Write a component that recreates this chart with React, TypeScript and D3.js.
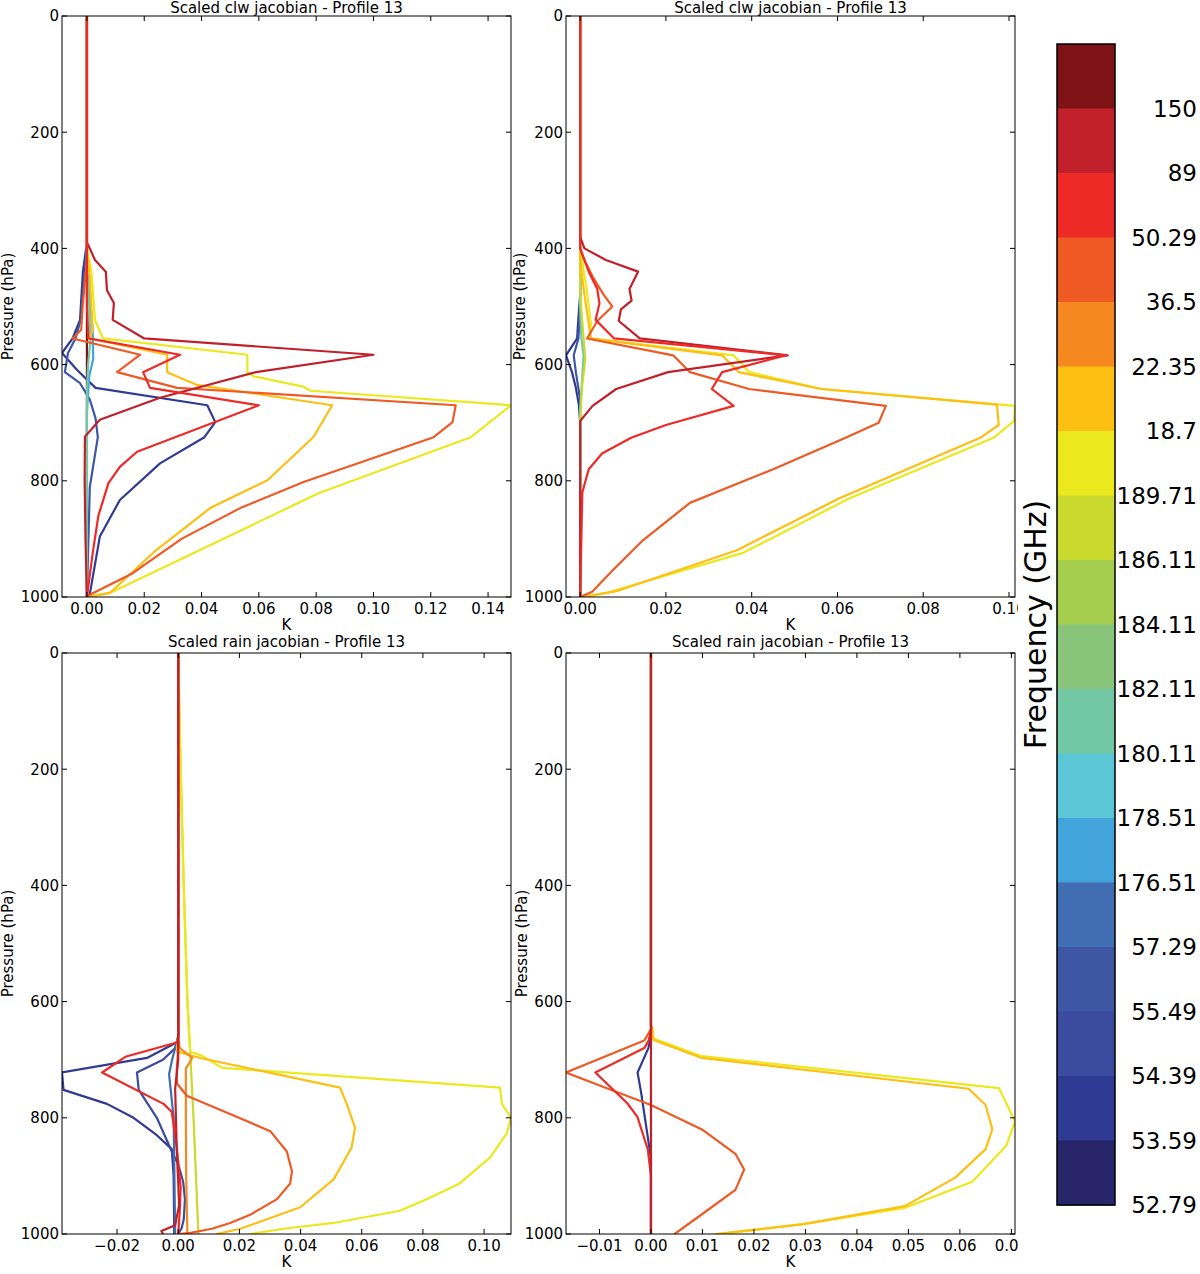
import React from 'react';
import * as d3 from 'd3';

type Pt = [number, number]; // [pressure (hPa), jacobian (K)]

interface Series {
    band: number;
    pts: Pt[];
}

// colourbar: one band per channel, top to bottom, label sits at the lower edge of the band
const bandLabels = ['150', '89', '50.29', '36.5', '22.35', '18.7', '189.71', '186.11', '184.11',
    '182.11', '180.11', '178.51', '176.51', '57.29', '55.49', '54.39', '53.59', '52.79'];
const bandColors = ['#7d1315', '#c1202b', '#ed2a25', '#ef5a24', '#f5891f', '#fdbf11', '#ece81e',
    '#c9d92d', '#a5ce4f', '#88c57b', '#72c8a5', '#5bc7d6', '#43a3db', '#416db3', '#3e57a4',
    '#3b4b9e', '#2f3b93', '#29256a'];

const pressureTicks = [0, 200, 400, 600, 800, 1000];
const clwLeftTicks = [0, 0.02, 0.04, 0.06, 0.08, 0.1, 0.12, 0.14];
const clwRightTicks = [0, 0.02, 0.04, 0.06, 0.08, 0.1];
const rainLeftTicks = [-0.02, 0, 0.02, 0.04, 0.06, 0.08, 0.1];
const rainRightTicks = [-0.01, 0, 0.01, 0.02, 0.03, 0.04, 0.05, 0.06, 0.07];

// ---- clw jacobian, left panel
const clwA_150: Pt[] = [[0, 0], [1000, 0]];
const clwA_53: Pt[] = [[0, 0], [390, 0], [440, -0.0014], [523, -0.0024], [555, -0.005], [580, -0.0087], [609, -0.0035], [640, 0.003], [670, 0.042], [699, 0.0448], [725, 0.041], [770, 0.0255], [833, 0.0115], [896, 0.0045], [995, 0.001], [1000, 0]];
const clwA_55: Pt[] = [[0, 0], [400, 0], [450, -0.001], [520, -0.002], [555, -0.004], [580, -0.0066], [613, -0.0077], [632, -0.0024], [660, 0.001], [692, 0.003], [725, 0.0038], [811, 0.001], [1000, 0]];
const clwA_176: Pt[] = [[0, 0], [430, 0], [480, 0.001], [540, 0.002], [590, 0.0022], [620, 0.0008], [680, 0], [1000, 0]];
const clwA_180: Pt[] = [[0, 0], [440, 0], [500, 0.0008], [560, 0.0012], [600, 0.0004], [650, 0], [1000, 0]];
const clwA_189: Pt[] = [[0, 0], [400, 0], [442, 0.0016], [523, 0.0028], [555, 0.0056], [583, 0.056], [613, 0.056], [620, 0.058], [638, 0.0755], [645, 0.078], [670, 0.148], [725, 0.134], [821, 0.081], [919, 0.0395], [993, 0.008], [1000, 0]];
const clwA_18: Pt[] = [[0, 0], [400, 0], [450, 0.001], [540, 0.002], [555, 0.001], [583, 0.028], [613, 0.028], [635, 0.0384], [670, 0.0856], [725, 0.079], [799, 0.063], [847, 0.043], [920, 0.024], [993, 0.008], [1000, 0]];
const clwA_36: Pt[] = [[0, 0], [420, 0], [500, -0.0015], [540, -0.002], [555, -0.005], [583, 0.0186], [613, 0.0105], [640, 0.0315], [670, 0.1287], [699, 0.1276], [725, 0.121], [802, 0.0756], [847, 0.0535], [900, 0.033], [959, 0.016], [996, 0.001], [1000, 0]];
const clwA_89: Pt[] = [[0, 0], [390, 0], [400, 0.001], [420, 0.0028], [440, 0.0066], [472, 0.007], [494, 0.0094], [523, 0.009], [555, 0.02], [583, 0.1], [613, 0.059], [657, 0.0255], [695, 0.0045], [724, -0.0007], [800, -0.0008], [900, -0.0005], [1000, 0]];
const clwA_50: Pt[] = [[0, 0], [500, 0], [555, 0.0005], [583, 0.0325], [613, 0.0196], [640, 0.022], [670, 0.06], [750, 0.0175], [776, 0.0115], [804, 0.0075], [860, 0.004], [925, 0.002], [1000, 0]];

// ---- clw jacobian, right panel
const clwB_53: Pt[] = [[0, 0], [480, 0], [530, -0.0005], [555, -0.0007], [584, -0.0033], [613, -0.0019], [640, -0.001], [669, -0.0003], [700, 0], [1000, 0]];
const clwB_55: Pt[] = [[0, 0], [500, 0], [555, -0.0004], [584, -0.0015], [613, -0.001], [660, 0], [1000, 0]];
const clwB_180: Pt[] = [[0, 0], [500, 0], [555, 0.0003], [584, 0.0008], [620, 0.0005], [680, 0], [1000, 0]];
const clwB_186: Pt[] = [[0, 0], [480, 0], [555, 0.0008], [590, 0.0012], [640, 0.0004], [700, 0], [1000, 0]];
const clwB_189: Pt[] = [[0, 0], [400, 0], [470, 0.0015], [530, 0.0025], [555, 0.0023], [584, 0.0358], [613, 0.0394], [642, 0.0563], [671, 0.1014], [697, 0.1012], [726, 0.0964], [831, 0.0626], [924, 0.038], [993, 0.006], [1000, 0.0005]];
const clwB_18: Pt[] = [[0, 0], [420, 0], [480, 0.001], [530, 0.002], [555, 0.0025], [584, 0.0331], [613, 0.037], [642, 0.0563], [669, 0.0972], [704, 0.0976], [726, 0.0933], [831, 0.0602], [919, 0.0367], [990, 0.0085], [1000, 0.0005]];
const clwB_36: Pt[] = [[0, 0], [400, 0], [420, 0.001], [450, 0.003], [480, 0.0055], [500, 0.0075], [525, 0.004], [555, 0.0016], [584, 0.0217], [613, 0.0256], [642, 0.0394], [671, 0.0713], [700, 0.0696], [726, 0.0619], [780, 0.045], [838, 0.0256], [902, 0.0147], [954, 0.0076], [991, 0.0028], [1000, 0]];
const clwB_89: Pt[] = [[0, 0], [380, 0], [400, 0.001], [420, 0.006], [440, 0.0135], [470, 0.0115], [490, 0.012], [505, 0.0095], [525, 0.009], [555, 0.0139], [584, 0.0484], [613, 0.0205], [642, 0.0084], [671, 0.0029], [697, 0], [1000, 0]];
const clwB_50: Pt[] = [[0, 0], [400, 0], [440, 0.002], [470, 0.004], [495, 0.0045], [523, 0.0036], [555, 0.0079], [584, 0.048], [613, 0.0331], [642, 0.0307], [671, 0.0358], [704, 0.02], [726, 0.0119], [753, 0.0051], [780, 0.002], [820, 0.0005], [1000, 0]];

// ---- rain jacobian, left panel
const rainA_53: Pt[] = [[0, 0], [660, 0], [670, -0.0004], [697, -0.0102], [722, -0.038], [752, -0.0375], [776, -0.0233], [800, -0.0146], [830, -0.007], [854, -0.0021], [900, -0.0015], [1000, -0.0013]];
const rainA_55: Pt[] = [[0, 0], [660, 0], [680, -0.001], [700, -0.005], [722, -0.0135], [752, -0.0129], [800, -0.007], [858, -0.0021], [880, 0], [910, 0.0016], [940, 0.0022], [975, 0.0018], [990, 0.0011], [1000, 0]];
const rainA_57: Pt[] = [[0, 0], [660, 0], [700, -0.002], [725, -0.003], [800, -0.0015], [1000, -0.001]];
const rainA_186: Pt[] = [[0, 0], [200, 0.0008], [400, 0.0018], [600, 0.003], [686, 0.0039], [800, 0.005], [900, 0.0058], [1000, 0.0066]];
const rainA_189: Pt[] = [[0, 0], [200, 0.0008], [400, 0.0018], [600, 0.003], [686, 0.0039], [693, 0.0077], [714, 0.0143], [748, 0.1052], [776, 0.1058], [800, 0.1088], [827, 0.1074], [868, 0.102], [913, 0.092], [940, 0.0812], [960, 0.0725], [981, 0.0508], [991, 0.0345], [1000, 0.0235]];
const rainA_18: Pt[] = [[0, 0], [650, 0], [686, -0.0004], [697, 0.0072], [748, 0.0529], [776, 0.0551], [817, 0.0578], [851, 0.0567], [906, 0.0508], [954, 0.0399], [991, 0.0203], [1000, 0.0125]];
const rainA_22: Pt[] = [[0, 0], [660, 0], [680, 0.0005], [697, 0.0046], [715, 0.0025], [800, 0.0025], [900, 0.0026], [1000, 0.003]];
const rainA_36: Pt[] = [[0, 0], [680, 0], [720, -0.0005], [741, -0.0004], [762, 0.0028], [796, 0.0181], [823, 0.0301], [858, 0.0355], [892, 0.0372], [913, 0.0366], [940, 0.0323], [967, 0.0235], [981, 0.017], [991, 0.011], [998, 0.004], [1000, 0]];
const rainA_50: Pt[] = [[0, 0], [660, 0], [670, -0.0002], [695, -0.0173], [722, -0.0249], [776, -0.0048], [790, -0.0021], [850, -0.0005], [920, 0.0008], [960, 0.0005], [1000, 0]];
const rainA_89: Pt[] = [[0, 0], [700, 0], [750, -0.001], [850, -0.0005], [950, 0.0003], [985, -0.001], [995, -0.0055], [1000, -0.005]];

// ---- rain jacobian, right panel
const rainB_53: Pt[] = [[0, 0], [660, 0], [680, -0.0005], [722, -0.0026], [757, -0.0019], [834, -0.0006], [870, 0], [1000, 0]];
const rainB_189: Pt[] = [[0, 0], [640, 0], [648, 0.0004], [663, 0.0004], [694, 0.0099], [749, 0.0676], [806, 0.0707], [848, 0.069], [910, 0.0624], [955, 0.0493], [983, 0.0296], [1000, 0.0138]];
const rainB_18: Pt[] = [[0, 0], [640, 0], [666, 0.0005], [697, 0.0099], [750, 0.0617], [778, 0.065], [820, 0.0663], [854, 0.065], [903, 0.0591], [952, 0.0493], [983, 0.0296], [1000, 0.0125]];
const rainB_36: Pt[] = [[0, 0], [640, 0], [646, 0.0001], [667, -0.0013], [722, -0.0165], [747, -0.0092], [778, 0], [820, 0.0099], [862, 0.0164], [889, 0.0181], [924, 0.0164], [966, 0.0099], [1000, 0.0046]];
const rainB_50: Pt[] = [[0, 0], [650, 0], [668, -0.0005], [680, -0.0013], [722, -0.0108], [775, -0.0046], [799, -0.0026], [855, -0.0006], [900, 0], [1000, 0]];
const rainB_89: Pt[] = [[0, 0], [1000, 0]];

const FONT = 'DejaVu Sans, sans-serif';
const FS = 15;
const W = 1200;
const H = 1274;

interface PanelCfg {
    id: string;
    title: string;
    x0: number; x1: number; y0: number; y1: number;
    ticks: number[];
    yLabelX: number;
    titleDy: number;
    clipLabels?: number;
    series: Series[];
}

const panels: PanelCfg[] = [
    {
        id: 'clwA', title: 'Scaled clw jacobian - Profile 13', x0: 62, x1: 511, y0: 16, y1: 597,
        ticks: clwLeftTicks, yLabelX: 7.5, titleDy: -3,
        series: [
            { band: 0, pts: clwA_150 }, { band: 16, pts: clwA_53 }, { band: 14, pts: clwA_55 },
            { band: 12, pts: clwA_176 }, { band: 10, pts: clwA_180 }, { band: 6, pts: clwA_189 },
            { band: 5, pts: clwA_18 }, { band: 3, pts: clwA_36 }, { band: 1, pts: clwA_89 },
            { band: 2, pts: clwA_50 },
        ],
    },
    {
        id: 'clwB', title: 'Scaled clw jacobian - Profile 13', x0: 566, x1: 1015, y0: 16, y1: 597,
        ticks: clwRightTicks, yLabelX: 520, titleDy: -3, clipLabels: 1018,
        series: [
            { band: 16, pts: clwB_53 }, { band: 14, pts: clwB_55 }, { band: 10, pts: clwB_180 },
            { band: 7, pts: clwB_186 }, { band: 6, pts: clwB_189 }, { band: 5, pts: clwB_18 },
            { band: 3, pts: clwB_36 }, { band: 1, pts: clwB_89 }, { band: 2, pts: clwB_50 },
        ],
    },
    {
        id: 'rainA', title: 'Scaled rain jacobian - Profile 13', x0: 62, x1: 511, y0: 653, y1: 1234,
        ticks: rainLeftTicks, yLabelX: 7.5, titleDy: -6,
        series: [
            { band: 16, pts: rainA_53 }, { band: 15, pts: rainA_55 }, { band: 13, pts: rainA_57 },
            { band: 7, pts: rainA_186 }, { band: 6, pts: rainA_189 }, { band: 5, pts: rainA_18 },
            { band: 4, pts: rainA_22 }, { band: 3, pts: rainA_36 }, { band: 2, pts: rainA_50 },
            { band: 1, pts: rainA_89 },
        ],
    },
    {
        id: 'rainB', title: 'Scaled rain jacobian - Profile 13', x0: 566, x1: 1015, y0: 653, y1: 1234,
        ticks: rainRightTicks, yLabelX: 522, titleDy: -6, clipLabels: 1018,
        series: [
            { band: 16, pts: rainB_53 }, { band: 6, pts: rainB_189 }, { band: 5, pts: rainB_18 },
            { band: 3, pts: rainB_36 }, { band: 2, pts: rainB_50 }, { band: 1, pts: rainB_89 },
        ],
    },
];

const fmt2 = d3.format('.2f');

function Panel({ cfg }: { cfg: PanelCfg }) {
    const { id, x0, x1, y0, y1 } = cfg;
    // matplotlib autoscale: x limits are the data extent
    const allK = cfg.series.flatMap(s => s.pts.map(p => p[1]));
    const [lo, hi] = d3.extent(allK) as [number, number];
    const x = d3.scaleLinear().domain([lo, hi]).range([x0, x1]);
    const y = d3.scaleLinear().domain([0, 1000]).range([y0, y1]);
    const line = d3.line<Pt>().x(d => x(d[1])).y(d => y(d[0]));
    const tl = 5;
    const cx = (x0 + x1) / 2;
    const cy = (y0 + y1) / 2;

    return (
        <g>
            <defs>
                <clipPath id={`plot-${id}`}>
                    <rect x={x0} y={y0} width={x1 - x0} height={y1 - y0} />
                </clipPath>
                <clipPath id={`lab-${id}`}>
                    <rect x={0} y={0} width={cfg.clipLabels ?? W} height={H} />
                </clipPath>
            </defs>

            <g clipPath={`url(#plot-${id})`}>
                {cfg.series.map((s, i) => (
                    <path key={i} d={line(s.pts) ?? ''} fill="none" stroke={bandColors[s.band]}
                        strokeWidth={2.2} strokeLinejoin="round" strokeLinecap="round" />
                ))}
            </g>

            {/* frame */}
            <rect x={x0} y={y0} width={x1 - x0} height={y1 - y0} fill="none" stroke="#000" strokeWidth={1} />

            {/* y ticks, both sides, pointing in */}
            {pressureTicks.map(p => (
                <g key={`y${p}`}>
                    <line x1={x0} x2={x0 + tl} y1={y(p)} y2={y(p)} stroke="#000" />
                    <line x1={x1} x2={x1 - tl} y1={y(p)} y2={y(p)} stroke="#000" />
                    <text x={x0 - 3} y={y(p)} dy="0.36em" textAnchor="end" fontSize={FS} fontFamily={FONT}>{p}</text>
                </g>
            ))}

            {/* x ticks, top and bottom */}
            <g clipPath={`url(#lab-${id})`}>
                {cfg.ticks.map(t => (
                    <g key={`x${t}`}>
                        <line x1={x(t)} x2={x(t)} y1={y1} y2={y1 - tl} stroke="#000" />
                        <line x1={x(t)} x2={x(t)} y1={y0} y2={y0 + tl} stroke="#000" />
                        <text x={x(t)} y={y1 + 17} textAnchor="middle" fontSize={FS} fontFamily={FONT}>{fmt2(t)}</text>
                    </g>
                ))}
            </g>

            <text x={cx} y={y1 + 33} textAnchor="middle" fontSize={FS} fontFamily={FONT}>K</text>
            <text x={cx} y={y0 + cfg.titleDy} textAnchor="middle" fontSize={FS} fontFamily={FONT}>{cfg.title}</text>
            <text transform={`translate(${cfg.yLabelX},${cy}) rotate(-90)`} textAnchor="middle" dy="0.36em"
                fontSize={FS} fontFamily={FONT}>Pressure (hPa)</text>
        </g>
    );
}

function ColorBar() {
    const cx0 = 1057;
    const cw = 58;
    const cb = d3.scaleLinear().domain([0, bandLabels.length]).range([44, 1205]);
    return (
        <g>
            {bandColors.map((c, i) => (
                <rect key={i} x={cx0} y={cb(i)} width={cw} height={cb(i + 1) - cb(i) + 0.5} fill={c} />
            ))}
            <rect x={cx0} y={cb(0)} width={cw} height={cb(bandLabels.length) - cb(0)} fill="none" stroke="#000" strokeWidth={1.5} />
            {bandLabels.map((l, i) => (
                <text key={l} x={1197} y={cb(i + 1)} dy="0.36em" textAnchor="end" fontSize={23} fontFamily={FONT}>{l}</text>
            ))}
            <text transform={`translate(1035,${(cb(0) + cb(bandLabels.length)) / 2}) rotate(-90)`}
                textAnchor="middle" dy="0.36em" fontSize={30} fontFamily={FONT}>Frequency (GHz)</text>
        </g>
    );
}

export default function App() {
    return (
        <svg width={W} height={H} style={{ position: 'absolute', left: 0, top: 0, background: '#fff' }}>
            <rect width={W} height={H} fill="#fff" />
            {panels.map(p => <Panel key={p.id} cfg={p} />)}
            <ColorBar />
        </svg>
    );
}
